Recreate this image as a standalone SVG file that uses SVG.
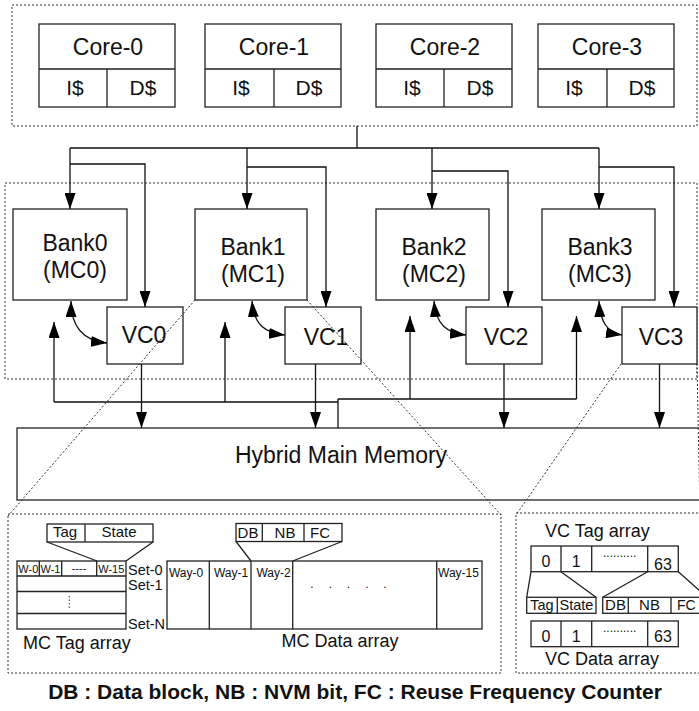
<svg xmlns="http://www.w3.org/2000/svg" width="699" height="711" viewBox="0 0 699 711">
<defs>
<marker id="ah" viewBox="0 0 16 11" refX="16" refY="5.5" markerWidth="16" markerHeight="11" markerUnits="userSpaceOnUse" orient="auto-start-reverse"><path d="M0,0L16,5.5L0,11z" fill="#000"/></marker>
<style>
.box{fill:#fff;stroke:#222;stroke-width:1.3}
.nb{fill:none;stroke:#222;stroke-width:1.3}
.dot{fill:none;stroke:#333;stroke-width:1;stroke-dasharray:2 2}
.ln{fill:none;stroke:#111;stroke-width:1.3}
.ar{fill:none;stroke:#111;stroke-width:1.3;marker-end:url(#ah)}
.ar2{fill:none;stroke:#111;stroke-width:1.3;marker-end:url(#ah);marker-start:url(#ah)}
text{font-family:"Liberation Sans",Arial,sans-serif;fill:#111;text-anchor:middle}
.c{font-size:23px}
.s{font-size:21px}
.m{font-size:18px}
.f15{font-size:15px}
.f12{font-size:12px}
.f11{font-size:11px}
.st{text-anchor:start}
</style>
</defs>
<rect width="699" height="711" fill="#fff"/>

<g id="cpu-cluster">
<rect class="dot" x="12" y="5" width="685" height="121"/>
</g>
<g id="core0">
<rect class="box" x="39" y="24" width="136" height="83"/>
<path class="nb" d="M39,69H175M107,69V107"/>
<text class="c" x="108" y="55">Core-0</text>
<text class="s" x="75" y="95">I$</text>
<text class="s" x="143" y="95">D$</text>
</g>
<g id="core1">
<rect class="box" x="205" y="24" width="136" height="83"/>
<path class="nb" d="M205,69H341M274,69V107"/>
<text class="c" x="274" y="55">Core-1</text>
<text class="s" x="241" y="95">I$</text>
<text class="s" x="309" y="95">D$</text>
</g>
<g id="core2">
<rect class="box" x="376" y="24" width="136" height="83"/>
<path class="nb" d="M376,69H512M444,69V107"/>
<text class="c" x="445" y="55">Core-2</text>
<text class="s" x="412" y="95">I$</text>
<text class="s" x="480" y="95">D$</text>
</g>
<g id="core3">
<rect class="box" x="538" y="24" width="136" height="83"/>
<path class="nb" d="M538,69H674M607,69V107"/>
<text class="c" x="607" y="55">Core-3</text>
<text class="s" x="574" y="95">I$</text>
<text class="s" x="642" y="95">D$</text>
</g>

<g id="llc-cluster">
<rect class="dot" x="5" y="183" width="692" height="196"/>
</g>
<g id="bank0">
<rect class="box" x="13" y="209" width="114" height="91"/>
<text class="c" x="75" y="251">Bank0</text>
<text class="c" x="75" y="278">(MC0)</text>
</g>
<g id="bank1">
<rect class="box" x="195" y="209" width="112" height="91"/>
<text class="c" x="253" y="255">Bank1</text>
<text class="c" x="253" y="282">(MC1)</text>
</g>
<g id="bank2">
<rect class="box" x="376" y="209" width="113" height="91"/>
<text class="c" x="434" y="255">Bank2</text>
<text class="c" x="434" y="282">(MC2)</text>
</g>
<g id="bank3">
<rect class="box" x="542" y="209" width="113" height="91"/>
<text class="c" x="600" y="255">Bank3</text>
<text class="c" x="600" y="282">(MC3)</text>
</g>
<g id="vc0">
<rect class="box" x="107" y="307" width="76" height="57"/>
<text class="c" x="144" y="343">VC0</text>
</g>
<g id="vc1">
<rect class="box" x="285" y="307" width="76" height="57"/>
<text class="c" x="326" y="345">VC1</text>
</g>
<g id="vc2">
<rect class="box" x="466" y="307" width="76" height="57"/>
<text class="c" x="506" y="345">VC2</text>
</g>
<g id="vc3">
<rect class="box" x="622" y="307" width="75" height="57"/>
<text class="c" x="661" y="345">VC3</text>
</g>

<g id="memory">
<rect class="box" x="17" y="428" width="700" height="72"/>
<text class="c" x="341" y="463">Hybrid Main Memory</text>
</g>

<g id="connectors">
<path class="ln" d="M357,126V148M70,148H599"/>
<path class="ar" d="M70,148V209"/>
<path class="ar" d="M70,164H145V307"/>
<path class="ar" d="M247,148V209"/>
<path class="ar" d="M247,167H326V307"/>
<path class="ar" d="M432,148V209"/>
<path class="ar" d="M432,171H508V307"/>
<path class="ar" d="M599,148V209"/>
<path class="ar" d="M599,167H674V307"/>
<path class="ar2" d="M71,301C71,330 86,341 107,343"/>
<path class="ar2" d="M252,301C254,325 265,333 285,335"/>
<path class="ar2" d="M434,301C436,325 447,333 466,335"/>
<path class="ar2" d="M599,301C600,322 608,333 622,335"/>
<path class="ar" d="M141.5,364V428"/>
<path class="ar" d="M315.5,364V428"/>
<path class="ar" d="M504,364V428"/>
<path class="ar" d="M659.5,364V428"/>
<path class="ln" d="M338,428V399M54,402H338M338,399H576.5"/>
<path class="ar" d="M54,402V322"/>
<path class="ar" d="M225,402V322"/>
<path class="ar" d="M410,399V316"/>
<path class="ar" d="M576.5,399V316"/>
<path class="dot" d="M195,300L8,516M307,300L501,515M621,364L516,515M697,364L700,515"/>
</g>

<g id="mc-detail">
<rect class="dot" x="8" y="514" width="493" height="159"/>
<g id="mc-tag-fields">
<rect class="box" x="47" y="524" width="106" height="18"/>
<path class="nb" d="M85,524V542M47,542L97,561M153,542L126,561"/>
<text class="f15" x="65" y="537">Tag</text>
<text class="f15" x="119" y="537">State</text>
</g>
<g id="mc-tag-array">
<rect class="box" x="17" y="561" width="109" height="68"/>
<path class="nb" d="M17,576H126M17,591.5H126M17,613.5H126M39.3,561V576M61.7,561V576M96.7,561V576"/>
<path class="dot" d="M69.3,596V609" style="stroke-dasharray:1.5 2"/>
<text class="f11" x="28.3" y="573">W-0</text>
<text class="f11" x="50.5" y="573">W-1</text>
<text class="f11" x="79" y="572">----</text>
<text class="f11" x="111.3" y="573">W-15</text>
<text class="st" x="128" y="575" style="font-size:14.5px">Set-0</text>
<text class="st" x="128" y="589.5" style="font-size:14.5px">Set-1</text>
<text class="st" x="128" y="628.5" style="font-size:14.5px">Set-N</text>
<text class="m st" x="23" y="649">MC Tag array</text>
</g>
<g id="mc-data-fields">
<rect class="box" x="236" y="523.5" width="106" height="18"/>
<path class="nb" d="M262.3,523.5V541.5M304,523.5V541.5M236,541.5L251,561M342,541.5L292.7,561"/>
<text class="f15" x="248" y="538">DB</text>
<text class="f15" x="285" y="538">NB</text>
<text class="f15" x="320" y="538">FC</text>
</g>
<g id="mc-data-array">
<rect class="box" x="167" y="561" width="315" height="68"/>
<path class="nb" d="M209.3,561V629M251,561V629M292.7,561V629M436.7,561V629"/>
<text class="f12" x="186" y="577">Way-0</text>
<text class="f12" x="231" y="577">Way-1</text>
<text class="f12" x="273.5" y="577">Way-2</text>
<text class="f12" x="458.5" y="577">Way-15</text>
<text class="f12" x="312 330.5 348.5 367 385" y="588">.....</text>
<text class="m" x="340" y="647">MC Data array</text>
</g>
</g>

<g id="vc-detail">
<rect class="dot" x="516" y="513" width="200" height="160"/>
<text class="m st" x="545" y="536.5">VC Tag array</text>
<g id="vc-tag-array">
<rect class="box" x="531" y="546" width="147.3" height="25.7"/>
<path class="nb" d="M561,546V571.7M591.7,546V571.7M647.7,546V571.7"/>
<text style="font-size:16px" x="546" y="566.5">0</text>
<text style="font-size:16px" x="576.3" y="566.5">1</text>
<text class="f12" x="619.7" y="557">..........</text>
<text style="font-size:16px" x="663" y="570">63</text>
<path class="nb" d="M531,571.7L526.7,597.3M561,571.7L596,597.3M647.7,571.7L602.7,597.3M678.3,571.7L707,597.3"/>
</g>
<g id="vc-tag-fields">
<rect class="box" x="526.7" y="597.3" width="69.3" height="16"/>
<path class="nb" d="M557.3,597.3V613.3"/>
<text x="542" y="610" style="font-size:14.5px">Tag</text>
<text x="576.5" y="610" style="font-size:14.5px">State</text>
</g>
<g id="vc-data-fields">
<rect class="box" x="602.7" y="597.3" width="120" height="16"/>
<path class="nb" d="M628.3,597.3V613.3M671,597.3V613.3"/>
<text class="f15" x="615.5" y="610">DB</text>
<text class="f15" x="649.5" y="610">NB</text>
<text class="st" x="677" y="610" style="font-size:14px">FC</text>
</g>
<g id="vc-data-array">
<rect class="box" x="531" y="621" width="147.3" height="25.7"/>
<path class="nb" d="M561,621V646.7M591.7,621V646.7M647.7,621V646.7"/>
<text style="font-size:16px" x="546" y="641.5">0</text>
<text style="font-size:16px" x="576.3" y="641.5">1</text>
<text class="f12" x="619.7" y="632">..........</text>
<text style="font-size:16px" x="663" y="641.5">63</text>
</g>
<text class="m st" x="545" y="665">VC Data array</text>
</g>

<g id="caption">
<text x="355" y="699" style="font-size:21px;font-weight:bold">DB : Data block, NB : NVM bit, FC : Reuse Frequency Counter</text>
</g>
</svg>
